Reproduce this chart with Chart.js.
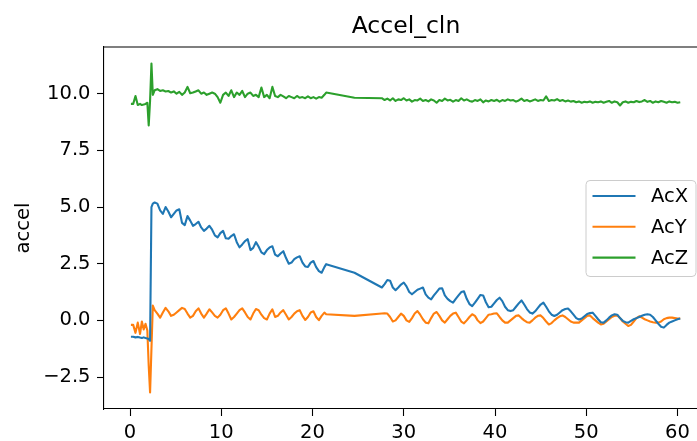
<!DOCTYPE html>
<html>
<head>
<meta charset="utf-8">
<script src="https://cdn.jsdelivr.net/npm/chart.js@4.4.0/dist/chart.umd.min.js"></script>
<style>
  html, body { margin: 0; padding: 0; overflow: hidden; background: #ffffff; }
  #wrap { width: 712px; height: 441px; position: relative; }
</style>
</head>
<body>
<div id="wrap"><canvas id="c"></canvas></div>
<script>
// ---------------- data ----------------
const time = [
  0.1,0.35,0.6,0.85,1.1,1.3,1.5,1.7,1.9,2.05,2.2,2.35,2.5,2.7,
  3.0,3.3,3.6,3.9,4.2,4.5,4.8,5.1,5.4,5.7,
  6.0,6.3,6.6,6.9,7.2,7.5,7.8,8.1,8.4,8.7,
  9.0,9.3,9.6,9.9,10.2,10.5,10.8,11.1,11.4,11.7,
  12.0,12.3,12.6,12.9,13.2,13.5,13.8,14.1,14.4,14.7,
  15.0,15.3,15.6,15.9,16.2,16.5,16.8,17.1,17.4,17.7,
  18.0,18.3,18.6,18.9,19.2,19.5,19.8,20.1,20.4,20.7,
  21.0,21.3,21.5,24.6,27.6,
  27.9,28.2,28.5,28.8,29.1,29.4,29.7,30.0,30.3,30.6,
  30.9,31.2,31.5,31.8,32.1,32.4,32.7,33.0,33.3,33.6,
  33.9,34.2,34.5,34.8,35.1,35.4,35.7,36.0,36.3,36.6,
  36.9,37.2,37.5,37.8,38.1,38.4,38.7,39.0,39.3,39.6,
  39.9,40.2,40.5,40.8,41.1,41.4,41.7,42.0,42.3,42.6,
  42.9,43.2,43.5,43.8,44.1,44.4,44.7,45.0,45.3,45.6,
  45.9,46.2,46.5,46.8,47.1,47.4,47.7,48.0,48.3,48.6,
  48.9,49.2,49.5,49.8,50.1,50.4,50.7,51.0,51.3,51.6,
  51.9,52.2,52.5,52.8,53.1,53.4,53.7,54.0,54.3,54.6,
  54.9,55.2,55.5,55.8,56.1,56.4,56.7,57.0,57.3,57.6,
  57.9,58.2,58.5,58.8,59.1,59.4,59.7,60.0,60.3
];
const acX = [
  -0.72,-0.72,-0.75,-0.73,-0.76,-0.78,-0.75,-0.78,-0.8,-0.82,-0.9,5.0,5.15,5.2,
  5.15,4.85,4.7,5.0,4.8,4.55,4.7,4.85,4.9,4.3,
  4.2,4.6,4.4,4.17,4.25,4.35,4.1,3.95,4.05,4.17,
  4.0,3.75,3.66,3.85,3.95,3.62,3.6,3.72,3.8,3.45,
  3.22,3.35,3.5,3.58,3.1,3.2,3.45,3.25,3.0,2.92,
  3.1,3.22,3.27,2.9,2.83,2.95,3.05,2.75,2.5,2.55,
  2.7,2.78,2.83,2.55,2.38,2.36,2.55,2.62,2.35,2.17,
  2.1,2.35,2.48,2.1,1.45,
  1.6,1.78,1.75,1.45,1.33,1.45,1.58,1.67,1.5,1.25,
  1.15,1.25,1.35,1.4,1.45,1.15,1.0,0.93,1.1,1.25,
  1.4,1.42,1.1,0.95,0.85,0.78,0.95,1.1,1.25,1.28,
  0.95,0.72,0.63,0.78,0.95,1.12,1.1,0.8,0.58,0.6,
  0.75,0.9,1.0,0.85,0.6,0.45,0.41,0.45,0.6,0.75,
  0.88,0.7,0.5,0.35,0.3,0.4,0.55,0.7,0.78,0.6,
  0.4,0.25,0.19,0.25,0.35,0.45,0.5,0.52,0.4,0.25,
  0.1,0.04,0.08,0.18,0.28,0.32,0.34,0.2,0.05,-0.08,
  -0.1,0.0,0.12,0.22,0.27,0.25,0.1,-0.02,-0.08,-0.1,
  -0.02,0.05,0.1,0.15,0.2,0.25,0.27,0.25,0.15,0.0,
  -0.15,-0.28,-0.32,-0.2,-0.1,-0.05,0.0,0.05,0.08
];
const acY = [
  -0.2,-0.2,-0.55,-0.1,-0.6,-0.05,-0.4,-0.15,-0.45,-2.0,-3.18,-1.25,0.65,0.45,
  0.3,0.12,0.35,0.55,0.4,0.2,0.25,0.35,0.45,0.55,
  0.5,0.3,0.12,0.2,0.4,0.53,0.3,0.12,0.3,0.49,
  0.35,0.2,0.12,0.25,0.45,0.53,0.3,0.04,0.15,0.3,
  0.45,0.53,0.35,0.15,0.04,0.3,0.5,0.45,0.25,0.1,
  0.04,0.3,0.49,0.15,0.2,0.35,0.45,0.25,0.04,0.15,
  0.3,0.4,0.45,0.2,0.02,0.15,0.35,0.4,0.15,0.01,
  0.2,0.34,0.27,0.2,0.3,
  0.31,0.3,0.15,-0.05,0.0,0.15,0.3,0.2,0.0,-0.07,
  0.1,0.3,0.41,0.25,0.05,-0.1,-0.13,0.1,0.3,0.37,
  0.2,0.0,-0.1,0.05,0.2,0.3,0.34,0.15,-0.05,-0.13,
  0.0,0.15,0.27,0.2,0.0,-0.12,-0.05,0.1,0.25,0.27,
  0.3,0.31,0.15,0.0,-0.1,-0.1,0.0,0.1,0.2,0.22,
  0.1,0.0,-0.08,-0.1,0.0,0.12,0.2,0.22,0.1,-0.05,
  -0.18,-0.12,0.0,0.1,0.18,0.22,0.15,0.05,-0.05,-0.1,
  -0.1,-0.1,0.0,0.1,0.2,0.22,0.1,0.0,-0.1,-0.18,
  -0.15,-0.05,0.05,0.15,0.2,0.22,0.1,-0.05,-0.15,-0.25,
  -0.2,-0.05,0.1,0.18,0.12,0.05,0.0,-0.05,-0.08,-0.1,
  -0.1,-0.05,0.05,0.1,0.12,0.12,0.1,0.08,0.08
];
const acZ = [
  9.55,9.55,9.9,9.5,9.55,9.5,9.52,9.55,9.6,8.6,9.7,11.33,9.95,10.15,
  10.2,10.12,10.15,10.1,10.12,10.05,10.1,10.0,10.08,9.95,
  10.05,10.3,10.02,10.05,10.1,10.15,10.0,10.05,9.95,10.0,
  10.05,10.0,9.85,9.6,9.95,10.05,9.9,10.15,9.85,10.05,
  9.95,10.12,9.85,10.0,10.05,9.9,9.95,9.85,10.27,9.85,
  9.95,9.8,10.3,9.9,9.85,9.95,9.88,9.8,9.9,9.85,
  9.8,9.9,9.82,9.85,9.8,9.88,9.8,9.85,9.78,9.85,
  9.82,9.95,10.05,9.82,9.8,
  9.72,9.78,9.7,9.8,9.68,9.75,9.72,9.8,9.7,9.75,
  9.65,9.72,9.7,9.78,9.68,9.72,9.66,9.75,9.7,9.6,
  9.72,9.68,9.78,9.7,9.73,9.65,9.72,9.68,9.8,9.7,
  9.75,9.68,9.65,9.72,9.68,9.75,9.62,9.7,9.66,9.72,
  9.68,9.73,9.65,9.72,9.68,9.75,9.7,9.72,9.65,9.7,
  9.78,9.68,9.72,9.66,9.7,9.75,9.68,9.72,9.7,9.88,
  9.68,9.72,9.7,9.76,9.68,9.72,9.66,9.7,9.65,9.68,
  9.62,9.66,9.6,9.64,9.62,9.66,9.6,9.64,9.62,9.66,
  9.6,9.64,9.68,9.6,9.66,9.62,9.48,9.62,9.66,9.6,
  9.64,9.62,9.68,9.63,9.66,9.72,9.64,9.68,9.6,9.66,
  9.62,9.68,9.64,9.6,9.66,9.62,9.64,9.6,9.62
];
const seriesNames = ['AcX', 'AcY', 'AcZ'];
const seriesColors = ['#1f77b4', '#ff7f0e', '#2ca02c'];
const xTicks = [0, 10, 20, 30, 40, 50, 60];
const xTickLabels = ['0', '10', '20', '30', '40', '50', '60'];
const yTicks = [-2.5, 0, 2.5, 5, 7.5, 10];
const yTickLabels = ['\u22122.5', '0.0', '2.5', '5.0', '7.5', '10.0'];
const titleText = 'Accel_cln';
const yAxisTitle = 'accel';

// ---------------- styling ----------------
const FONT = 'DejaVu Sans';
const TICK_FONT = { family: FONT, size: 19.5 };
const TEXT_COLOR = '#000000';
const AXIS_COLOR = '#000000';

const seriesValues = [acX, acY, acZ];
const datasets = seriesNames.map((name, k) => ({
  label: name,
  data: time.map((t, i) => ({ x: t, y: seriesValues[k][i] })),
  borderColor: seriesColors[k],
  backgroundColor: seriesColors[k],
  borderWidth: 2.1,
  pointRadius: 0,
  pointHoverRadius: 0,
  tension: 0,
  fill: false,
  borderJoinStyle: 'round',
  borderCapStyle: 'butt'
}));

// top/right spines like matplotlib
const framePlugin = {
  id: 'frame',
  afterDraw(chart) {
    const { ctx, chartArea: a } = chart;
    ctx.save();
    ctx.strokeStyle = AXIS_COLOR;
    ctx.lineWidth = 1.1;
    ctx.beginPath();
    ctx.moveTo(a.left, a.top);
    ctx.lineTo(a.right, a.top);
    ctx.lineTo(a.right, a.bottom);
    ctx.stroke();
    ctx.restore();
  }
};

// matplotlib-style legend inside the axes (center right)
const mplLegend = {
  id: 'mplLegend',
  afterDraw(chart) {
    const { ctx, chartArea: a } = chart;
    const ds = chart.data.datasets;
    const rowH = 30.8;
    const boxW = 110;
    const boxH = 96;
    const right = a.right - 12.5;
    const left = right - boxW;
    const top = (a.top + a.bottom) / 2 - boxH / 2;
    ctx.save();
    ctx.beginPath();
    ctx.roundRect(left + 0.5, top + 0.5, boxW, boxH, 4);
    ctx.fillStyle = 'rgba(255,255,255,0.8)';
    ctx.fill();
    ctx.strokeStyle = '#cccccc';
    ctx.lineWidth = 1;
    ctx.stroke();
    ctx.font = '19.5px "' + FONT + '"';
    ctx.textBaseline = 'middle';
    ctx.textAlign = 'left';
    ds.forEach((d, i) => {
      const y = top + 16 + i * rowH;
      ctx.strokeStyle = d.borderColor;
      ctx.lineWidth = 2.1;
      ctx.beginPath();
      ctx.moveTo(left + 7, y);
      ctx.lineTo(left + 50, y);
      ctx.stroke();
      ctx.fillStyle = TEXT_COLOR;
      ctx.fillText(d.label, left + 65.5, y + 1);
    });
    ctx.restore();
  }
};

new Chart(document.getElementById('c'), {
  type: 'line',
  data: { datasets },
  plugins: [framePlugin, mplLegend],
  options: {
    responsive: true,
    maintainAspectRatio: false,
    animation: false,
    events: [],
    layout: { padding: { left: 0, right: 4, top: 0, bottom: 0 } },
    plugins: {
      legend: { display: false },
      tooltip: { enabled: false },
      title: {
        display: true,
        text: titleText,
        color: TEXT_COLOR,
        fullSize: false,
        font: { family: FONT, size: 23.5, weight: 'normal', lineHeight: 1.2 },
        padding: { top: 12.8, bottom: 6.0 }
      }
    },
    scales: {
      x: {
        type: 'linear',
        min: -2.85,
        max: 63.34,
        afterBuildTicks: s => { s.ticks = xTicks.map(v => ({ value: v })); },
        afterFit: s => { s.height = 32; },
        grid: {
          display: true,
          drawOnChartArea: false,
          drawTicks: true,
          tickLength: 7,
          tickColor: AXIS_COLOR,
          tickWidth: 1.1
        },
        border: { display: true, color: AXIS_COLOR, width: 1.1 },
        ticks: {
          font: TICK_FONT,
          color: TEXT_COLOR,
          padding: 5,
          maxRotation: 0,
          autoSkip: false,
          callback: (v, i) => xTickLabels[i]
        }
      },
      y: {
        type: 'linear',
        min: -3.91,
        max: 12.06,
        afterBuildTicks: s => { s.ticks = yTicks.map(v => ({ value: v })); },
        afterFit: s => { s.width = 104; },
        grid: {
          display: true,
          drawOnChartArea: false,
          drawTicks: true,
          tickLength: 7,
          tickColor: AXIS_COLOR,
          tickWidth: 1.1
        },
        border: { display: true, color: AXIS_COLOR, width: 1.1 },
        ticks: {
          font: TICK_FONT,
          color: TEXT_COLOR,
          padding: 6.5,
          autoSkip: false,
          callback: (v, i) => yTickLabels[i]
        },
        title: {
          display: true,
          text: yAxisTitle,
          color: TEXT_COLOR,
          font: { family: FONT, size: 19.5, lineHeight: 1.2 },
          padding: { top: 12.6, bottom: 0 }
        }
      }
    }
  }
});
</script>
</body>
</html>
